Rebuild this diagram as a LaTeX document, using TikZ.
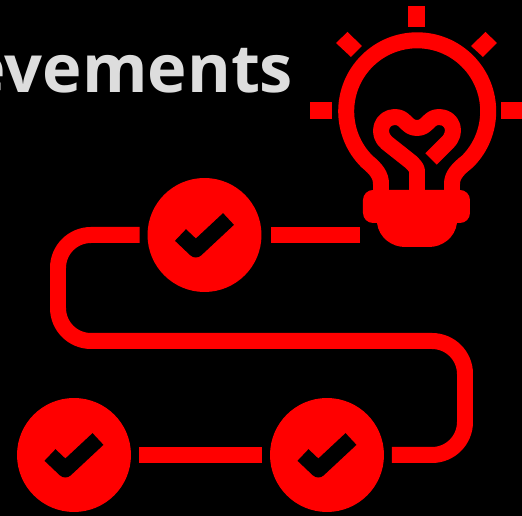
\documentclass[tikz,border=0pt]{standalone}
\usepackage{fontspec}
\setmainfont{Open Sans}
\usetikzlibrary{positioning,calc}
\definecolor{lampred}{RGB}{255,0,0}
\definecolor{titlegrey}{RGB}{221,221,221}
\tikzset{
    stepdot/.style={draw=none, fill=lampred, circle, minimum size=2.28cm, inner sep=0pt, outer sep=0.16cm},
    trail/.style={draw=lampred, line width=0.32cm},
    tick/.style={draw=black, line width=0.32cm, line join=round},
    ray/.style={fill=lampred, draw=none},
}

\begin{document}
\begin{tikzpicture}[x=0.02cm, y=-0.02cm]
    \useasboundingbox (0,0) rectangle (522,516);
    \clip (0,0) rectangle (522,516);
    \fill [black] (0,0) rectangle (522,516);

    \node [anchor=base east, inner sep=0pt, text=titlegrey, font=\fontsize{38}{38}\selectfont\bfseries] (Title) at (293.5,93) {evements};

    % steps
    \node [stepdot] (StepTop) at (204.5,235) {};
    \node [stepdot] (StepLeft) at (74,455) {};
    \node [stepdot] (StepRight) at (327,455) {};
    \foreach \n in {StepTop,StepLeft,StepRight} {
        \draw [tick] ([shift={(-24,0)}]\n.center) -- ([shift={(-8.7,14.5)}]\n.center) -- ([shift={(24,-16)}]\n.center);
    }

    % connectors
    \coordinate (LampFoot) at (360,235);
    \coordinate (BendA) at (58,235);
    \coordinate (BendB) at (58,341);
    \coordinate (BendC) at (465,341);
    \coordinate (BendD) at (465,455);
    \draw [trail, shorten <=0.04cm] (StepTop.east) -- (LampFoot);
    \draw [trail, rounded corners=0.66cm] (StepTop.west) -- (BendA) -- (BendB) -- (BendC) -- (BendD) -- (StepRight.east);
    \draw [trail] (StepLeft.east) -- (StepRight.west);

    % bulb
    \draw [trail] (381,190) -- (381,184) .. controls (381,175) and (376,169) .. (367,161.5) arc (135:405:71) .. controls (458,169) and (452,175) .. (452,184) -- (452,190);
    \draw [trail, line join=round] (417,192) -- (417,171) .. controls (417,168) and (414,165) .. (411,162) -- (387,143) .. controls (376,134) and (381,117) .. (395,117) .. controls (406,117) and (406,128) .. (417,128) .. controls (428,128) and (428,117) .. (439,117) .. controls (453,117) and (458,133) .. (447,143) -- (431,159);
    \fill [lampred, rounded corners=0.2cm] (363,190) rectangle (470,223);
    \fill [lampred] (377,215) -- (377,223) .. controls (379,238) and (392,247) .. (405,247) -- (429,247) .. controls (442,247) and (455,238) .. (457,223) -- (457,215) -- cycle;

    % rays
    \fill [ray] (408,6) rectangle (425,27);
    \fill [ray] (310,102) rectangle (332,119);
    \fill [ray] (501,102) rectangle (522,119);
    \fill [ray] (347.5,32) -- (362,46) -- (351,57) -- (336,43) -- cycle;
    \fill [ray] (485.5,32) -- (497,43) -- (483,57) -- (471,46) -- cycle;
\end{tikzpicture}
\end{document}
